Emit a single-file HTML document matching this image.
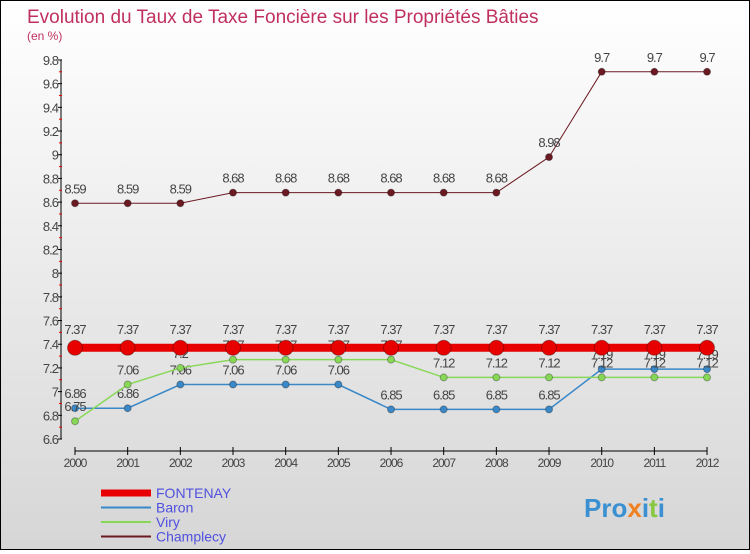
<!DOCTYPE html>
<html><head><meta charset="utf-8"><style>
body{margin:0;width:750px;height:550px;overflow:hidden;font-family:"Liberation Sans",sans-serif}
#c{position:absolute;left:0;top:0;width:748px;height:548px;border:1px solid #000;background:linear-gradient(#fff,#d6d6d6)}
</style></head><body>
<div id="c">
<svg id="s" width="748" height="548"></svg>
</div>
<script>
const years=[2000,2001,2002,2003,2004,2005,2006,2007,2008,2009,2010,2011,2012];
const fontenay=[7.37,7.37,7.37,7.37,7.37,7.37,7.37,7.37,7.37,7.37,7.37,7.37,7.37];
const baron=[6.86,6.86,7.06,7.06,7.06,7.06,6.85,6.85,6.85,6.85,7.19,7.19,7.19];
const viry=[6.75,7.06,7.2,7.27,7.27,7.27,7.27,7.12,7.12,7.12,7.12,7.12,7.12];
const champlecy=[8.59,8.59,8.59,8.68,8.68,8.68,8.68,8.68,8.68,8.98,9.7,9.7,9.7];
const yTicks=[6.6,6.8,7,7.2,7.4,7.6,7.8,8,8.2,8.4,8.6,8.8,9,9.2,9.4,9.6,9.8];
const yTickLabels=["6.6","6.8","7","7.2","7.4","7.6","7.8","8","8.2","8.4","8.6","8.8","9","9.2","9.4","9.6","9.8"];
const NS="http://www.w3.org/2000/svg",s=document.getElementById('s');
const xs=i=>74+i*52.67, ys=v=>438-(v-6.6)/0.2*23.69;
function el(t,a,txt){const e=document.createElementNS(NS,t);for(const k in a)e.setAttribute(k,a[k]);if(txt!==undefined)e.textContent=txt;s.appendChild(e);return e;}
let t=el('text',{x:26,y:22,'font-size':19,fill:'#c0305e'},'Evolution du Taux de Taxe Foncière sur les Propriétés Bâties');

t=el('text',{x:26,y:39,'font-size':12,fill:'#c0305e'},'(en %)');

let a=el('line',{x1:60,y1:ys(9.8),x2:60,y2:ys(6.6),stroke:'#000'});

yTicks.forEach((v,i)=>{
 el('line',{x1:57,x2:61,y1:ys(v),y2:ys(v),stroke:'#000'});
 if(i<yTicks.length-1)el('line',{x1:58,x2:61,y1:ys(v+0.1),y2:ys(v+0.1),stroke:'#e00'});
 const l=el('text',{x:57,y:ys(v)+5,'font-size':13,fill:'#444','text-anchor':'end','letter-spacing':'-1'},yTickLabels[i]);
 
});
a=el('line',{x1:xs(0),x2:xs(12),y1:450,y2:450,stroke:'#000'});

years.forEach((y,i)=>{
 el('line',{x1:xs(i),x2:xs(i),y1:446,y2:454,stroke:'#000'});
 const l=el('text',{x:xs(i),y:466,'font-size':12,fill:'#444','text-anchor':'middle','letter-spacing':'-1'},y);
 
});
function series(d,color,w,r,name,dy){
 const p=el('polyline',{points:d.map((v,i)=>xs(i)+','+ys(v)).join(' '),fill:'none',stroke:color,'stroke-width':w});
 
 d.forEach((v,i)=>{
  const c=el('circle',{cx:xs(i),cy:ys(v),r:r,fill:color,stroke:'rgba(0,0,0,0.3)'});
  
  const l=el('text',{x:xs(i),y:ys(v)-dy,'font-size':13,fill:'#444','text-anchor':'middle','letter-spacing':'-1'},String(v));
  
 });
}
series(champlecy,'#6b1a22',1,3.5,'champlecy',10);
series(baron,'#3a88c8',1.5,3.5,'baron',10);
series(viry,'#88d858',1.5,3.5,'viry',10);
series(fontenay,'#e80000',8,7.5,'fontenay',14);
const leg=[['FONTENAY','#e80000',7],['Baron','#3a88c8',2],['Viry','#88d858',2],['Champlecy','#6b1a22',2]];
leg.forEach((g,i)=>{
 const y=493+i*14.5;
 const ln=el('line',{x1:100,x2:150,y1:y-1,y2:y-1,stroke:g[1],'stroke-width':g[2]});
 
 const l=el('text',{x:155,y:y+4,'font-size':14,fill:'#5050e0'},g[0]);
 
});
const lg=el('text',{x:583,y:516,'font-size':26,'font-weight':'bold',fill:'#3a90d0'});

[['Pro','#3a90d0'],['x','#f08020'],['i','#3a90d0'],['t','#88c840'],['i','#3a90d0']].forEach(p=>{const ts=document.createElementNS(NS,'tspan');ts.setAttribute('fill',p[1]);ts.textContent=p[0];lg.appendChild(ts);});
</script>
</body></html>
